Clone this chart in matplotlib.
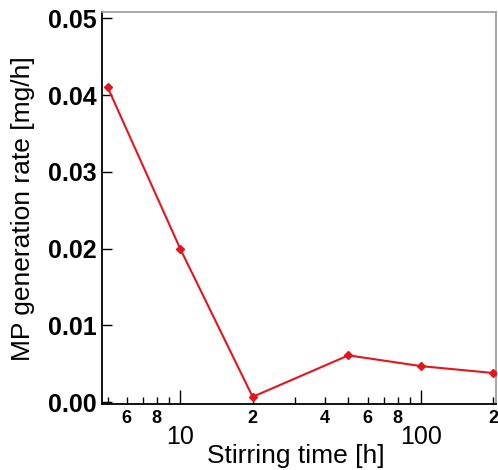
import matplotlib
matplotlib.use("Agg")
import matplotlib.pyplot as plt
from matplotlib.ticker import FixedLocator, FixedFormatter

plt.rcParams['font.family'] = ['Liberation Sans', 'DejaVu Sans']

# data
stirring_time_h = [5, 10, 20, 50, 100, 200]
mp_rate = [0.0410, 0.0200, 0.0007, 0.0061, 0.0047, 0.0038]

major_x_ticks = [10, 100]
major_x_labels = ["10", "100"]
minor_x_ticks = [5, 6, 7, 8, 9, 20, 30, 40, 50, 60, 70, 80, 90, 200]
minor_x_labels = ["", "6", "", "8", "", "2", "", "4", "", "6", "", "8", "", "2"]
y_ticks = [0.00, 0.01, 0.02, 0.03, 0.04, 0.05]
y_labels = ["0.00", "0.01", "0.02", "0.03", "0.04", "0.05"]

fig = plt.figure(figsize=(4.98, 4.70), dpi=100)
ax = fig.add_axes([0.205, 0.140, 0.791, 0.834])

ax.plot(stirring_time_h, mp_rate, color='#e3161e', lw=1.5, marker='D', ms=4.5,
        mec='#e3161e', mfc='#e3161e', zorder=3)

ax.set_xscale('log')
ax.set_xlim(4.74, 205)
ax.set_ylim(-0.00026, 0.05078)

ax.xaxis.set_major_locator(FixedLocator(major_x_ticks))
ax.xaxis.set_major_formatter(FixedFormatter(major_x_labels))
ax.xaxis.set_minor_locator(FixedLocator(minor_x_ticks))
ax.xaxis.set_minor_formatter(FixedFormatter(minor_x_labels))

ax.set_yticks(y_ticks)
ax.set_yticklabels(y_labels, fontsize=18, fontweight='bold')

ax.tick_params(axis='x', which='major', direction='in', length=10, width=1.0,
               pad=15, labelsize=18, top=False)
ax.tick_params(axis='x', which='minor', direction='in', length=5, width=1.0,
               pad=4, labelsize=13, top=False)
ax.tick_params(axis='y', which='major', direction='in', length=7, width=1.0,
               pad=4, right=False)
ax.tick_params(axis='y', which='minor', left=False, right=False)

for lbl in ax.xaxis.get_minorticklabels():
    lbl.set_fontweight('bold')

for s in ['top', 'right']:
    ax.spines[s].set_color('#9a9a9a')
    ax.spines[s].set_linewidth(1.2)
for s in ['left', 'bottom']:
    ax.spines[s].set_color('black')
    ax.spines[s].set_linewidth(1.3)

ax.set_xlabel('Stirring time [h]', fontsize=19)
ax.xaxis.set_label_coords(0.492, -0.102)
ax.set_ylabel('MP generation rate [mg/h]', fontsize=19, labelpad=9)

fig.savefig('out.png', dpi=100)
